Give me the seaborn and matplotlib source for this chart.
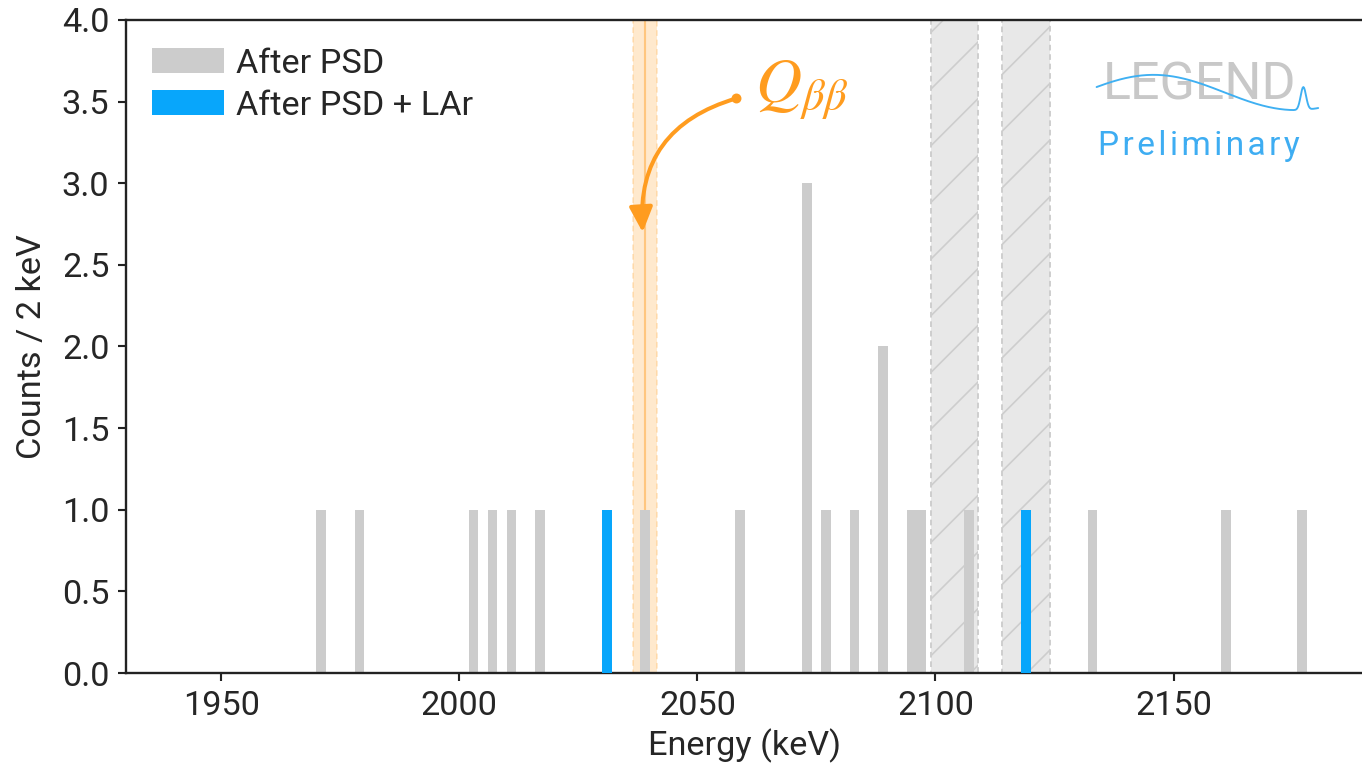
import numpy as np
import pandas as pd
import matplotlib
matplotlib.use("Agg")
import matplotlib.pyplot as plt
import seaborn as sns
from matplotlib.patches import Patch

# ---- data (event energies in keV, binned at 2 keV) ----
psd_events = [1971, 1979, 2003, 2007, 2011, 2017, 2031, 2039, 2059,
              2073, 2073, 2073, 2077, 2083, 2089, 2089, 2095, 2097,
              2107, 2119, 2133, 2161, 2177]
lar_events = [2031, 2119]
bin_edges = list(range(1930, 2192, 2))
q_bb = 2039.0
q_bb_halfwidth = 2.6
excluded_windows = [(2099, 2109), (2114, 2124)]
x_ticks = [1950, 2000, 2050, 2100, 2150]
y_ticks = [0.0, 0.5, 1.0, 1.5, 2.0, 2.5, 3.0, 3.5, 4.0]
labels = ["After PSD", "After PSD + LAr"]

GRAY = "#cccccc"
BLUE = "#08a6fb"
ORANGE = "#ff9c1f"

sns.set_style("ticks")
plt.rcParams["font.family"] = ["Roboto", "DejaVu Sans"]
plt.rcParams["mathtext.fontset"] = "stix"
plt.rcParams["hatch.linewidth"] = 0.7

DPI = 170
fig = plt.figure(figsize=(1362 / DPI, 773 / DPI), dpi=DPI)
ax = fig.add_axes([126 / 1362, 100 / 773, 1238 / 1362, 653 / 773])

df_psd = pd.DataFrame({"E": psd_events})
df_lar = pd.DataFrame({"E": lar_events})

# background bands
for lo, hi in excluded_windows:
    ax.axvspan(lo, hi, facecolor="#e8e8e8", edgecolor="#cdcdcd", hatch="/",
               linestyle=(0, (3, 2)), linewidth=0.8, zorder=1)
ax.axvspan(q_bb - q_bb_halfwidth, q_bb + q_bb_halfwidth, facecolor=ORANGE, alpha=0.22,
           edgecolor=ORANGE, linestyle=(0, (3, 2)), linewidth=0.8, zorder=1)
ax.axvline(q_bb, color=ORANGE, alpha=0.45, lw=0.9, zorder=1)

sns.histplot(data=df_psd, x="E", bins=bin_edges, color=GRAY, alpha=1.0,
             linewidth=0, ax=ax, zorder=2)
sns.histplot(data=df_lar, x="E", bins=bin_edges, color=BLUE, alpha=1.0,
             linewidth=0, ax=ax, zorder=3)

ax.set_xlim(1930, 2190)
ax.set_ylim(0, 4)
ax.set_xticks(x_ticks)
ax.set_yticks(y_ticks)
ax.set_yticklabels([f"{v:.1f}" for v in y_ticks])
ax.tick_params(axis="both", labelsize=14.5, length=3.5, width=0.9, color="#222222")
for s in ["left", "bottom", "top"]:
    ax.spines[s].set_linewidth(1.0)
    ax.spines[s].set_color("#222222")
ax.spines["right"].set_visible(False)
ax.set_xlabel("Energy (keV)", fontsize=14.5, labelpad=3)
ax.set_ylabel("Counts / 2 keV", fontsize=14.5, labelpad=6)

# legend
handles = [Patch(facecolor=GRAY, edgecolor="none"), Patch(facecolor=BLUE, edgecolor="none")]
ax.legend(handles, labels, loc="upper left", bbox_to_anchor=(-0.004, 1.005), frameon=False,
          fontsize=14.5, handlelength=2.1, handleheight=0.75, labelspacing=0.3,
          handletextpad=0.35, borderaxespad=0.5)

# Q_bb annotation
ax.text(2062.0, 3.57, r"$Q_{\beta\beta}$", color=ORANGE, fontsize=27,
        ha="left", va="center", zorder=5)
ax.annotate("", xy=(q_bb - 0.5, 2.70), xytext=(2058.2, 3.52), textcoords="data",
            arrowprops=dict(arrowstyle="-|>,head_length=0.9,head_width=0.42",
                            color=ORANGE, lw=1.7, shrinkA=0, shrinkB=0,
                            connectionstyle="arc3,rad=0.4", capstyle="round"), zorder=5)
ax.plot([2058.2], [3.52], marker="o", ms=3.2, color=ORANGE, zorder=5)

# LEGEND logo
ax.text(0.867, 0.90, "LEGEND", transform=ax.transAxes, fontsize=22, color="#c8c8c8",
        ha="center", va="center", fontweight="normal", zorder=4)
xw = np.linspace(0.784, 0.963, 300)
yw = 0.889 + 0.027 * np.cos(2 * np.pi * (xw - 0.830) / 0.23) + 0.035 * np.exp(-0.5 * ((xw - 0.951) / 0.0022) ** 2)
ax.plot(xw, yw, transform=ax.transAxes, color="#3fb0f2", lw=0.8, zorder=5)
ax.text(0.867, 0.807, "P r e l i m i n a r y".replace(" ", "\u200a"), transform=ax.transAxes,
        fontsize=14.2, color="#3eadf2", ha="center", va="center", fontweight="normal", zorder=4)

fig.savefig("out.png", dpi=DPI)
